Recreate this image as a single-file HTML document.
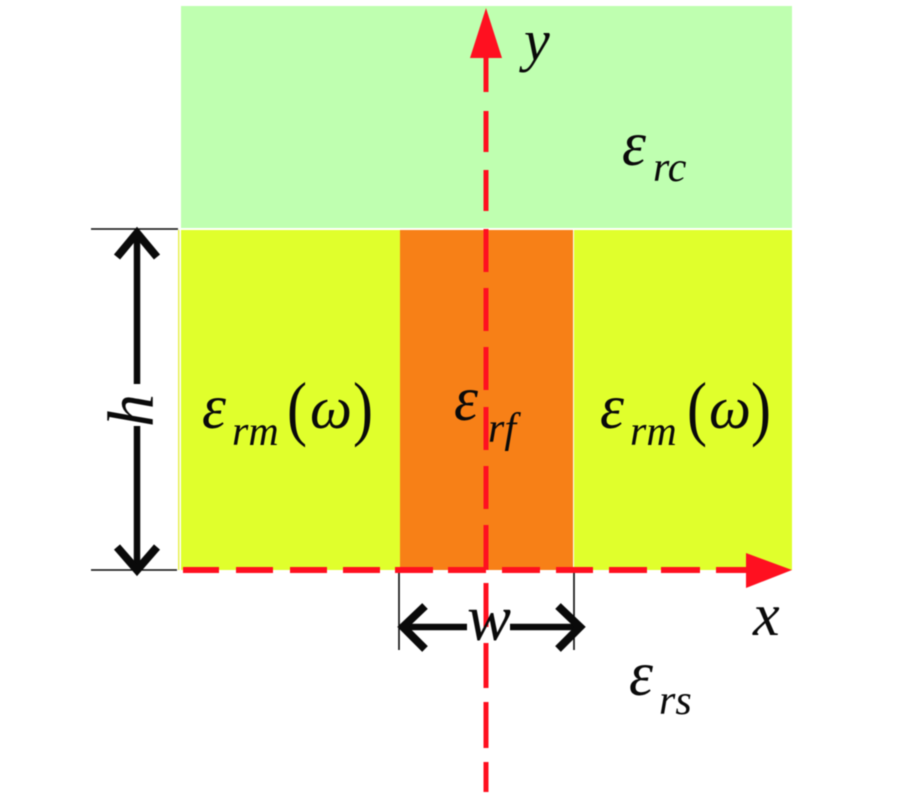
<!DOCTYPE html>
<html>
<head>
<meta charset="utf-8">
<style>
html,body{margin:0;padding:0;background:#fff;}
svg{display:block;filter:blur(0.4px);}
text{font-family:"Liberation Serif",serif;font-style:italic;fill:#0a0a0a;}
.e{font-size:64px;}
.s{font-size:42px;}
.w{font-size:60px;}
.p{font-size:72px;font-style:normal;font-weight:normal;}
</style>
</head>
<body>
<svg width="900" height="800" viewBox="0 0 900 800" xmlns="http://www.w3.org/2000/svg">
<rect x="181" y="6" width="611" height="222" fill="#bfffb0"/>
<rect x="181" y="230" width="219" height="340" fill="#e0ff2c"/>
<rect x="574" y="230" width="218" height="340" fill="#e0ff2c"/>
<rect x="400" y="230" width="173" height="340" fill="#f78017"/>
<rect x="178" y="230" width="1.5" height="340" fill="#e8f050"/>

<!-- dimension h -->
<g stroke="#0a0a0a" fill="none">
<path d="M91 229H178M91 570H177" stroke-width="1.6"/>
<path d="M137 233V384M137 426V568" stroke-width="6.5"/>
<path d="M117 257L137 233L157 257M117 547L137 570L157 547" stroke-width="8"/>
<!-- dimension w -->
<path d="M399 570V650M574 570V650" stroke-width="1.6"/>
<path d="M402 627H467M510 627H581" stroke-width="6.5"/>
<path d="M425 606L403 627L425 649M558 606L580 627L558 649" stroke-width="8"/>
</g>

<!-- axes -->
<g stroke="#ff1020" fill="none" stroke-width="6">
<path d="M486 55V92M486 111V152M486 170V211M486 229V272M486 288V331M486 347V390M486 407V450M486 466V509M486 525V570M486 583V627M486 643V688M486 702V748M486 762V792" stroke-width="5"/>
<path d="M183 570H219M236 570H273M290 570H327M343 570H380M395 570H433M448 570H486M502 570H540M556 570H593M609 570H647M661 570H700M716 570H750"/>
</g>
<polygon points="486,8 470,58 502,58" fill="#ff1020"/>
<polygon points="792,570 746,553 746,588" fill="#ff1020"/>

<!-- labels -->
<text x="524" y="60" font-size="58">y</text>
<text x="753" y="635" font-size="60">x</text>
<text x="467" y="640" font-size="66">w</text>
<text transform="translate(153,427) rotate(-90)" font-size="66">h</text>

<text class="e" x="622" y="165" textLength="24" lengthAdjust="spacingAndGlyphs">ε</text>
<text class="s" x="653" y="181">rc</text>

<text class="e" x="202" y="428" textLength="24" lengthAdjust="spacingAndGlyphs">ε</text>
<text class="s" x="232" y="445">rm</text>
<text class="p" x="287" y="432" textLength="20" lengthAdjust="spacingAndGlyphs">(</text>
<text class="w" x="310" y="428" textLength="42" lengthAdjust="spacingAndGlyphs">ω</text>
<text class="p" x="353" y="432" textLength="20" lengthAdjust="spacingAndGlyphs">)</text>

<text class="e" x="600" y="428" textLength="24" lengthAdjust="spacingAndGlyphs">ε</text>
<text class="s" x="630" y="445">rm</text>
<text class="p" x="687" y="432" textLength="20" lengthAdjust="spacingAndGlyphs">(</text>
<text class="w" x="709" y="428" textLength="42" lengthAdjust="spacingAndGlyphs">ω</text>
<text class="p" x="751" y="432" textLength="20" lengthAdjust="spacingAndGlyphs">)</text>

<text class="e" x="454" y="420" textLength="24" lengthAdjust="spacingAndGlyphs">ε</text>
<text class="s" x="488" y="442">rf</text>

<text class="e" x="629" y="695" textLength="24" lengthAdjust="spacingAndGlyphs">ε</text>
<text class="s" x="659" y="714">rs</text>
</svg>
</body>
</html>
